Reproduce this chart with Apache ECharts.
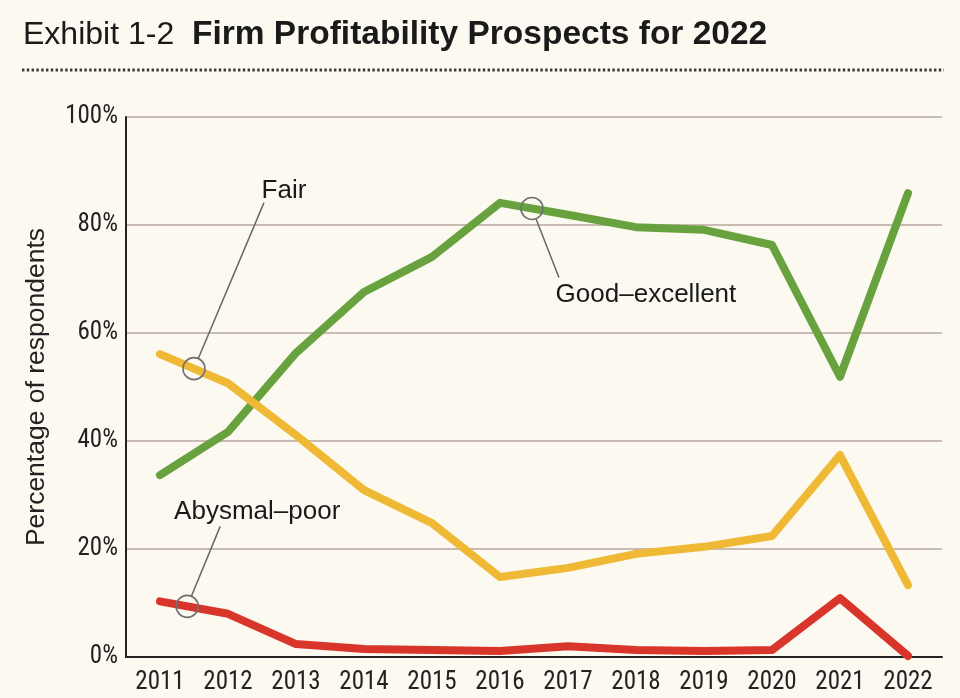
<!DOCTYPE html>
<html>
<head>
<meta charset="utf-8">
<script src="https://cdn.jsdelivr.net/npm/echarts@6/dist/echarts.min.js"></script>
<style>
  html, body { margin: 0; padding: 0; background: #fcf9f1; }
  #chart { width: 960px; height: 698px; }
</style>
</head>
<body>
<div id="chart"></div>
<script>
const years = ["2011", "2012", "2013", "2014", "2015", "2016", "2017", "2018", "2019", "2020", "2021", "2022"];
const goodExcellent = [33.7, 41.7, 56.3, 67.6, 74.1, 84.1, 81.9, 79.6, 79.1, 76.3, 51.9, 85.9];
const fair = [56.1, 50.7, 41.1, 30.9, 24.8, 14.8, 16.5, 19.1, 20.4, 22.4, 37.4, 13.3];
const abysmalPoor = [10.3, 8.0, 2.4, 1.5, 1.3, 1.1, 2.0, 1.3, 1.1, 1.3, 10.9, 0.2];
const yTicks = [0, 20, 40, 60, 80, 100];

// callouts sit on a series between two years; label and leader end are offsets from the circle
const callouts = [
  { text: "Fair", data: fair, at: 0.5, label: [90, -178], end: [70, -166] },
  { text: "Good\u2013excellent", data: goodExcellent, at: 5.47, label: [114, 86], end: [27, 69] },
  { text: "Abysmal\u2013poor", data: abysmalPoor, at: 0.4, label: [70, -95], end: [33, -80] },
];

const NARROW = "'Liberation Sans Narrow', 'Arial Narrow', 'Roboto Condensed', sans-serif";
const SANS = "'Liberation Sans', Arial, Helvetica, sans-serif";

const chart = echarts.init(document.getElementById("chart"));

const option = {
  backgroundColor: "#fcf9f1",
  animation: false,
  title: {
    left: 18,
    top: 13,
    text: "{a|Exhibit 1-2}  {b|Firm Profitability Prospects for 2022}",
    textStyle: {
      fontFamily: SANS,
      fontSize: 32,
      fontWeight: "normal",
      rich: {
        a: { fontFamily: SANS, fontSize: 32, fontWeight: "normal", color: "#1a1a1a" },
        b: { fontFamily: SANS, fontSize: 33.5, fontWeight: "bold", color: "#1a1a1a" },
      },
    },
  },
  grid: { left: 126, right: 18, top: 117, bottom: 41 },
  xAxis: {
    type: "category",
    data: years,
    boundaryGap: true,
    axisLine: { lineStyle: { color: "#222", width: 2 } },
    axisTick: { inside: true, length: 12, interval: 0, lineStyle: { color: "#222", width: 2 } },
    axisLabel: { fontFamily: NARROW, fontSize: 25, color: "#222", margin: 13, interval: 0 },
  },
  yAxis: {
    type: "value",
    min: yTicks[0],
    max: yTicks[yTicks.length - 1],
    interval: 20,
    name: "Percentage of respondents",
    nameLocation: "middle",
    nameGap: 76,
    nameTextStyle: { fontFamily: SANS, fontSize: 26.5, color: "#222" },
    axisLine: { show: true, lineStyle: { color: "#222", width: 2 } },
    axisTick: { show: false },
    axisLabel: { formatter: "{value}%", fontFamily: NARROW, fontSize: 25, color: "#222", margin: 8 },
    splitLine: { lineStyle: { color: "#c9bab2", width: 2 } },
  },
  series: [
    { name: "Good\u2013excellent", type: "line", data: goodExcellent, color: "#68a23e" },
    { name: "Fair", type: "line", data: fair, color: "#f0b935" },
    { name: "Abysmal\u2013poor", type: "line", data: abysmalPoor, color: "#d8352b" },
  ].map((s) => ({
    ...s,
    showSymbol: false,
    lineStyle: { width: 8, cap: "round", join: "round" },
  })),
};

chart.setOption(option);

function pointAt(data, at) {
  const i = Math.floor(at);
  const f = at - i;
  const p0 = chart.convertToPixel({ gridIndex: 0 }, [i, data[i]]);
  const p1 = chart.convertToPixel({ gridIndex: 0 }, [i + 1, data[i + 1]]);
  return [p0[0] + (p1[0] - p0[0]) * f, p0[1] + (p1[1] - p0[1]) * f];
}

const graphic = [
  {
    type: "line",
    shape: { x1: 22, y1: 70, x2: 944, y2: 70 },
    style: { stroke: "#3a3a3a", lineWidth: 3, lineDash: [2.4, 2.4] },
  },
];

const R = 11;
callouts.forEach((c) => {
  const [cx, cy] = pointAt(c.data, c.at);
  const ex = cx + c.end[0], ey = cy + c.end[1];
  const len = Math.hypot(c.end[0], c.end[1]);
  graphic.push({
    type: "circle",
    z: 100,
    shape: { cx, cy, r: R },
    style: { fill: "none", stroke: "#707070", lineWidth: 1.6 },
  });
  graphic.push({
    type: "line",
    z: 100,
    shape: { x1: cx + c.end[0] / len * R, y1: cy + c.end[1] / len * R, x2: ex, y2: ey },
    style: { stroke: "#666", lineWidth: 1.5 },
  });
  graphic.push({
    type: "text",
    z: 100,
    x: cx + c.label[0],
    y: cy + c.label[1],
    style: { text: c.text, fontFamily: SANS, fontSize: 26, fill: "#1a1a1a", align: "center", verticalAlign: "middle" },
  });
});

chart.setOption({ graphic });
</script>
</body>
</html>
